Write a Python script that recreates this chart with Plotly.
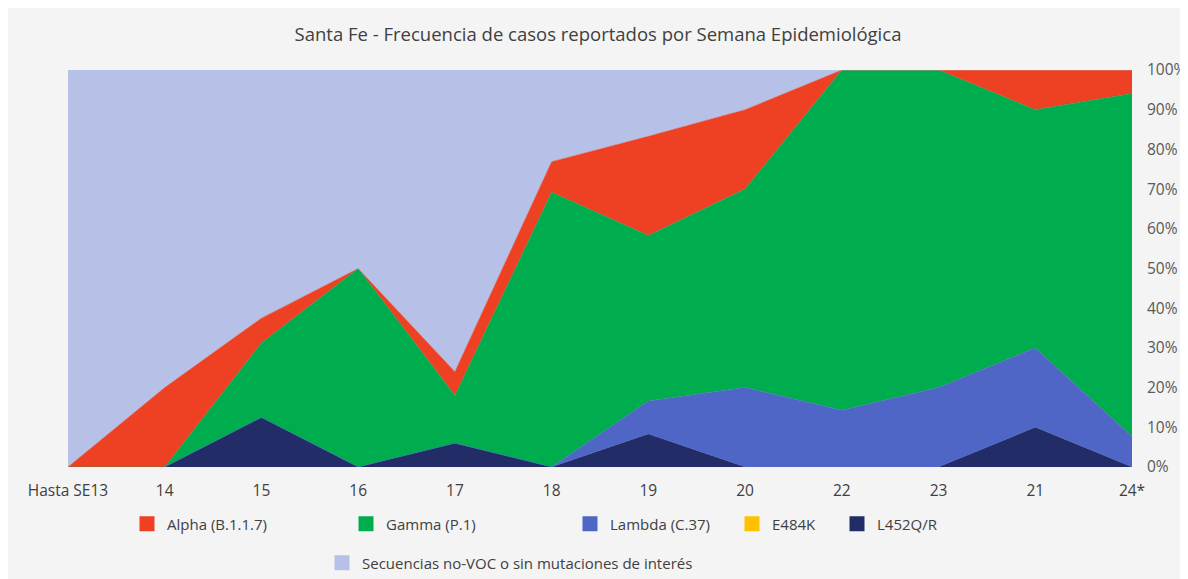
import plotly.graph_objects as go

categories = ["Hasta SE13", "14", "15", "16", "17", "18", "19", "20", "22", "23", "21", "24*"]

l452 = [0, 0, 12.5, 0, 6.0, 0, 8.3, 0, 0, 0, 10.0, 0]
e484k = [0, 0, 0, 0, 0, 0, 0, 0, 0, 0, 0, 0]
lambda_ = [0, 0, 0, 0, 0, 0, 8.3, 20.0, 14.3, 20.0, 20.0, 7.7]
gamma = [0, 0, 18.75, 50.0, 12.0, 69.2, 41.7, 50.0, 85.7, 80.0, 60.0, 86.4]
alpha = [0, 20.0, 6.25, 0, 6.0, 7.7, 25.0, 20.0, 0, 0, 10.0, 5.9]
no_voc = [100 - (a + b + c + d + e) for a, b, c, d, e in zip(l452, e484k, lambda_, gamma, alpha)]

names = ["L452Q/R", "E484K", "Lambda (C.37)", "Gamma (P.1)", "Alpha (B.1.1.7)",
         "Secuencias no-VOC o sin mutaciones de interés"]
series = [l452, e484k, lambda_, gamma, alpha, no_voc]
colors = ["#222C66", "#FFC000", "#4F66C6", "#00AD4E", "#EE4023", "#B7C1E7"]

fig = go.Figure()
for name, vals, col in zip(names, series, colors):
    lw = 0 if name == "E484K" else 0.5
    fig.add_trace(go.Scatter(
        x=categories, y=vals, name=name, mode="lines",
        stackgroup="one", line=dict(color=col, width=lw),
        fillcolor=col, showlegend=False, hoverinfo="x+y+name"))

# page has an 8px body margin; figure coordinates = screen pixels - 8
OFF = 8
FW, FH = 1188 - OFF, 579 - OFF
W, H = 1064.0, 397.0
L, T = 68.0 - OFF, 70.0 - OFF
legend_pos = {
    "Alpha (B.1.1.7)": (140, 524),
    "Gamma (P.1)": (359, 524),
    "Lambda (C.37)": (583, 524),
    "E484K": (745, 524),
    "L452Q/R": (850, 524),
    "Secuencias no-VOC o sin mutaciones de interés": (335, 563),
}
legend_order = ["Alpha (B.1.1.7)", "Gamma (P.1)", "Lambda (C.37)", "E484K", "L452Q/R",
                "Secuencias no-VOC o sin mutaciones de interés"]
layout_legends = {}
for i, nm in enumerate(legend_order):
    col = colors[names.index(nm)]
    key = "legend" if i == 0 else f"legend{i+1}"
    fig.add_trace(go.Scatter(
        x=[None], y=[None], mode="markers", name=nm,
        marker=dict(symbol="square", size=15, color=col),
        showlegend=True, legend=key))
    px, py = legend_pos[nm]
    fx = px - OFF - 13
    fy = py - OFF
    layout_legends[key] = dict(
        x=(fx - L) / W, y=(T + H - fy) / H,
        xanchor="left", yanchor="middle",
        bgcolor="rgba(0,0,0,0)", borderwidth=0,
        itemwidth=30, itemsizing="trace",
        font=dict(family="Open Sans", size=15, color="#404040"),
    )

fig.update_layout(
    width=FW, height=FH,
    margin=dict(l=L, r=FW - L - W, t=T, b=FH - T - H, autoexpand=False),
    paper_bgcolor="#F4F4F4",
    plot_bgcolor="rgba(0,0,0,0)",
    title=dict(text="Santa Fe - Frecuencia de casos reportados por Semana Epidemiológica",
               x=0.5, xanchor="center", y=1 - (35 - OFF) / FH, yanchor="middle",
               font=dict(family="Open Sans", size=18.5, color="#404040")),
    font=dict(family="Open Sans", size=15, color="#595959"),
    xaxis=dict(type="category", range=[0, 11], showgrid=False, zeroline=False,
               showline=False, ticks="", ticklabelstandoff=12,
               tickfont=dict(size=15.5, color="#404040"), fixedrange=True),
    yaxis=dict(range=[0, 100], side="right", dtick=10, ticksuffix="%",
               showgrid=False, zeroline=False, showline=False, ticks="",
               ticklabelstandoff=14,
               tickfont=dict(size=15.5, color="#595959"), fixedrange=True),
    **layout_legends,
)

fig.write_html("out.html")
